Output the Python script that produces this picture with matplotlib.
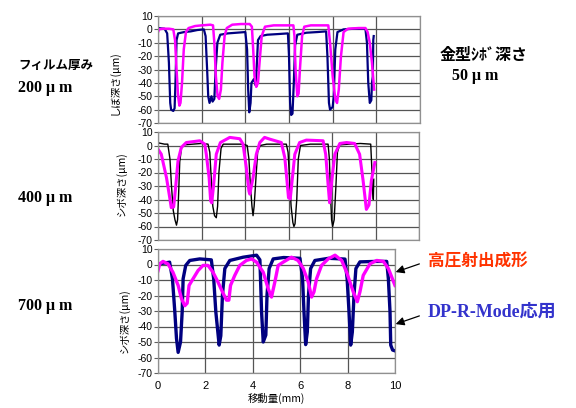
import matplotlib
matplotlib.use("Agg")
import matplotlib.pyplot as plt

plt.rcParams['font.family'] = ['Liberation Sans', 'Noto Sans CJK JP']
plt.rcParams['axes.unicode_minus'] = False

# 200um film (top)
top_dp_x = [0, 0.3, 0.42, 0.5, 0.56, 0.6, 0.7, 0.76, 0.8, 0.85, 0.92, 1.2, 1.5, 1.8, 2.1, 2.18, 2.25, 2.3, 2.36, 2.45, 2.5, 2.58, 2.64, 2.72, 2.85, 3.2, 3.6, 4.0, 4.08, 4.13, 4.18, 4.24, 4.28, 4.4, 4.48, 4.53, 4.58, 4.7, 5.0, 5.5, 5.95, 6.0, 6.05, 6.1, 6.16, 6.22, 6.28, 6.38, 6.8, 7.3, 7.7, 7.76, 7.83, 7.88, 8.0, 8.05, 8.12, 8.22, 8.5, 9.0, 9.5, 9.57, 9.63, 9.7, 9.77, 9.8, 9.84, 9.86, 9.88]
top_dp_y = [1, 0.5, -3, -25, -55, -60, -61, -59, -40, -8, -3, -2, -1.5, -0.5, 0, -5, -30, -50, -55, -50, -54, -52, -30, -10, -4, -3, -2.5, -2, -15, -45, -62, -55, -40, -37, -42, -25, -8, -5, -4, -3.5, -3, -20, -55, -64, -63, -40, -12, -4, -2.5, -2, -1.5, -20, -55, -60, -58, -50, -15, -2, 0, 0.5, 0.5, -10, -40, -55, -53, -40, -35, -8, -5]
top_hp_x = [0, 0.05, 0.2, 0.5, 0.7, 0.78, 0.85, 0.92, 0.98, 1.03, 1.1, 1.18, 1.28, 1.4, 1.7, 2.0, 2.4, 2.52, 2.58, 2.65, 2.73, 2.8, 2.88, 2.95, 3.05, 3.15, 3.4, 3.8, 4.2, 4.3, 4.36, 4.42, 4.5, 4.58, 4.65, 4.75, 4.9, 5.3, 5.8, 6.2, 6.25, 6.3, 6.38, 6.44, 6.5, 6.6, 6.7, 7.0, 7.5, 7.8, 7.88, 8.0, 8.12, 8.2, 8.28, 8.38, 8.5, 8.7, 9.2, 9.5, 9.6, 9.7, 9.8, 9.9]
top_hp_y = [-2, 0, 0.5, 0.5, 0, -8, -30, -50, -57, -55, -40, -15, -2, 1, 2.5, 3, 3.5, 3, -10, -35, -50, -52, -45, -25, -5, 1, 3.5, 4, 4, 2, -15, -35, -43, -40, -25, -5, 2, 3, 3, 3, -5, -30, -50, -48, -30, -5, 2, 3, 3, 3, -10, -35, -52, -55, -45, -20, -2, 0.5, 1, 1, -2, -10, -25, -45]

# 400um film (middle)
mid_dp_x = [0, 0.3, 0.45, 0.55, 0.62, 0.7, 0.78, 0.85, 0.9, 0.95, 1.0, 1.08, 1.2, 1.6, 2.0, 2.3, 2.38, 2.45, 2.52, 2.6, 2.68, 2.74, 2.8, 2.9, 3.0, 3.5, 3.9, 4.1, 4.18, 4.25, 4.32, 4.37, 4.42, 4.5, 4.58, 4.7, 5.0, 5.5, 5.9, 5.98, 6.05, 6.12, 6.2, 6.25, 6.3, 6.38, 6.45, 6.55, 7.0, 7.5, 7.82, 7.88, 7.93, 7.98, 8.03, 8.1, 8.18, 8.25, 8.35, 8.8, 9.3, 9.78, 9.84, 9.88, 9.9, 9.92]
mid_dp_y = [2, 1, 1, -10, -30, -48, -55, -59, -55, -35, -12, -2, 0.5, 1, 1.5, 1, -5, -25, -45, -52, -53.5, -45, -20, -2, 1, 1, 1, 0, -10, -30, -45, -52, -45, -25, -5, 0, 1, 1, 1, -5, -25, -45, -57, -60, -58, -40, -10, 0, 1, 1, 1, -10, -35, -55, -60, -55, -30, -5, 0.5, 1, 1.5, 1, -20, -35, -40, -25]
mid_hp_x = [0, 0.15, 0.39, 0.54, 0.61, 0.72, 0.81, 0.92, 1.07, 1.3, 1.92, 2.15, 2.22, 2.35, 2.42, 2.47, 2.56, 2.68, 2.87, 3.3, 3.76, 3.91, 4.06, 4.18, 4.22, 4.37, 4.52, 4.68, 4.9, 5.14, 5.67, 5.83, 5.93, 6.0, 6.08, 6.18, 6.29, 6.51, 6.82, 7.59, 7.71, 7.82, 7.89, 7.99, 8.13, 8.36, 8.67, 9.04, 9.27, 9.43, 9.58, 9.7, 9.81, 9.97]
mid_hp_y = [-2.7, -6.4, -23.8, -38.7, -46, -45.5, -31, -11.4, -1.5, 2.2, 3.5, 1, -6.4, -23.8, -41, -42.5, -28.8, -6.4, 2.2, 6, 5, 1, -16.4, -33.7, -36, -23.8, -6.5, 2.2, 6, 4.7, 2.2, -9, -26, -38.7, -39.5, -23.8, -6.5, 2.2, 4, 3.5, -6.5, -28.8, -42.4, -26, -6.5, 1.5, 2.2, 1.5, -6.5, -26, -47.3, -44, -26, -12.6]

# 700um film (bottom)
bot_dp_x = [0, 0.3, 0.49, 0.61, 0.71, 0.78, 0.85, 0.95, 1.02, 1.06, 1.17, 1.34, 1.76, 2.25, 2.35, 2.44, 2.58, 2.65, 2.72, 2.82, 3.03, 3.59, 4.16, 4.3, 4.37, 4.44, 4.55, 4.6, 4.69, 4.86, 5.3, 5.99, 6.1, 6.16, 6.23, 6.3, 6.35, 6.44, 6.62, 7.2, 7.89, 7.98, 8.06, 8.13, 8.2, 8.27, 8.35, 8.52, 9.2, 9.65, 9.72, 9.79, 9.82, 9.9, 10]
bot_dp_y = [0.4, 1, 1.5, -9.2, -30.6, -47.7, -56.7, -50, -30.6, -9.2, -0.6, 2.6, 3.6, 3, -9.2, -30.6, -52, -46, -19.6, -2.6, 2.6, 4.7, 6, 3, -30.6, -50, -45.5, -19.6, -2.6, 3.6, 4.5, 4, -9.2, -30.6, -51.7, -43.5, -19.6, -2.6, 2.6, 4, 3.5, -9.2, -30.6, -52, -43.5, -19.6, -2.6, 1.7, 2, 2, -9.2, -30.6, -52, -55.2, -55.7]
bot_hp_x = [0, 0.07, 0.21, 0.42, 0.63, 0.85, 0.99, 1.13, 1.23, 1.31, 1.48, 1.69, 1.9, 2.11, 2.32, 2.53, 2.72, 2.89, 2.99, 3.06, 3.24, 3.45, 3.73, 3.95, 4.16, 4.44, 4.65, 4.79, 4.93, 5.07, 5.28, 5.63, 5.91, 6.13, 6.34, 6.48, 6.58, 6.69, 6.9, 7.18, 7.47, 7.75, 7.96, 8.24, 8.41, 8.52, 8.66, 8.94, 9.23, 9.51, 9.72, 10]
bot_hp_y = [-4, 0.4, 2, 0.4, -5, -13.5, -22, -26.6, -25, -13.5, -9.2, -3.9, -0.6, -0.6, -5, -11.3, -17.7, -23, -23, -13.5, -7, -0.6, 2.6, 3.6, 1.5, -5, -15.6, -21, -11.3, -0.6, 1.5, 4.7, 2.6, -2.6, -11.3, -21, -17.7, -9.2, -0.6, 3.6, 6, 2.6, -5, -17.7, -24, -17.7, -7, 0.4, 2.6, 2, -2.6, -13.5]

y_ticks = [-70, -60, -50, -40, -30, -20, -10, 0, 10]

W, H = 576, 408
fig = plt.figure(figsize=(W / 100, H / 100), dpi=100)


def box(l, r, t, b):
    return [l / W, 1 - b / H, (r - l) / W, (b - t) / H]


def style(ax, xmax, label, lx, ly):
    ax.set_xlim(0, xmax)
    ax.set_ylim(-70, 10)
    ax.set_yticks(y_ticks)
    ax.set_xticks(range(0, xmax + 1, 2))
    ax.grid(True, color='#555555', linewidth=0.9)
    ax.set_axisbelow(True)
    for s in ax.spines.values():
        s.set_color('#909090')
        s.set_linewidth(0.9)
    ax.tick_params(axis='y', labelsize=7.5, length=3, width=0.8, color='#606060', pad=1)
    ax.tick_params(axis='x', length=0, labelsize=8)
    ax.set_ylabel(label, fontsize=7.5, family='Noto Sans CJK JP')
    ax.yaxis.set_label_coords(lx, ly)


ax1 = fig.add_axes(box(158, 420, 16, 123))
ax1.plot(top_dp_x, top_dp_y, color='#000080', lw=1.6)
ax1.plot(top_hp_x, top_hp_y, color='#FF00FF', lw=1.8)
style(ax1, 12, 'しぼ深さ(μm)', (120 - 158) / 262, 0.38)
ax1.set_xticklabels([])

ax2 = fig.add_axes(box(158, 419, 132, 240))
ax2.plot(mid_dp_x, mid_dp_y, color='black', lw=1.0)
ax2.plot(mid_hp_x, mid_hp_y, color='#FF00FF', lw=2.2)
style(ax2, 12, 'シボ深さ(μm)', (127 - 158) / 261, 0.52)
ax2.set_xticklabels([])

ax3 = fig.add_axes(box(158, 395, 249, 373))
ax3.plot(bot_dp_x, bot_dp_y, color='#000080', lw=2.4)
ax3.plot(bot_hp_x, bot_hp_y, color='#FF00FF', lw=2.4)
style(ax3, 10, 'シボ深さ(μm)', (130 - 158) / 237, 0.42)
ax3.tick_params(axis='x', pad=6)
ax3.set_xlabel('移動量(mm)', fontsize=7.5, family='Noto Sans CJK JP', labelpad=1)


def ftext(x, y, s, **kw):
    fig.text(x / W, 1 - y / H, s, va='center', **kw)


ftext(18, 66, 'フィルム厚み', fontsize=9, weight='bold', family='Noto Sans CJK JP')
for yy, t in [(88, '200'), (198, '400'), (306, '700')]:
    ftext(18, yy, t + ' μ m', fontsize=11.5, weight='bold', family='Liberation Serif')
ftext(440, 55, '金型ｼﾎﾞ深さ', fontsize=11.5, weight='bold', family='Noto Sans CJK JP')
ftext(452, 76, '50 μ m', fontsize=11.5, weight='bold', family='Liberation Serif')
ftext(428, 262, '高圧射出成形', fontsize=12, weight='bold', color='#FF3300', family='Noto Sans CJK JP')
ftext(428, 312, 'DP-R-Mode応用', fontsize=13, weight='bold', color='#3333CC',
      family=['Liberation Serif', 'Noto Sans CJK JP'])

for (x0, y0, x1, y1) in [(422, 263, 393, 273), (422, 315, 393, 325)]:
    fig.add_artist(matplotlib.patches.FancyArrowPatch(
        (x0 / W, 1 - y0 / H), (x1 / W, 1 - y1 / H), transform=fig.transFigure,
        arrowstyle='-|>,head_length=5,head_width=2.5', color='black', lw=0.9))

fig.savefig('out.png', dpi=100)
